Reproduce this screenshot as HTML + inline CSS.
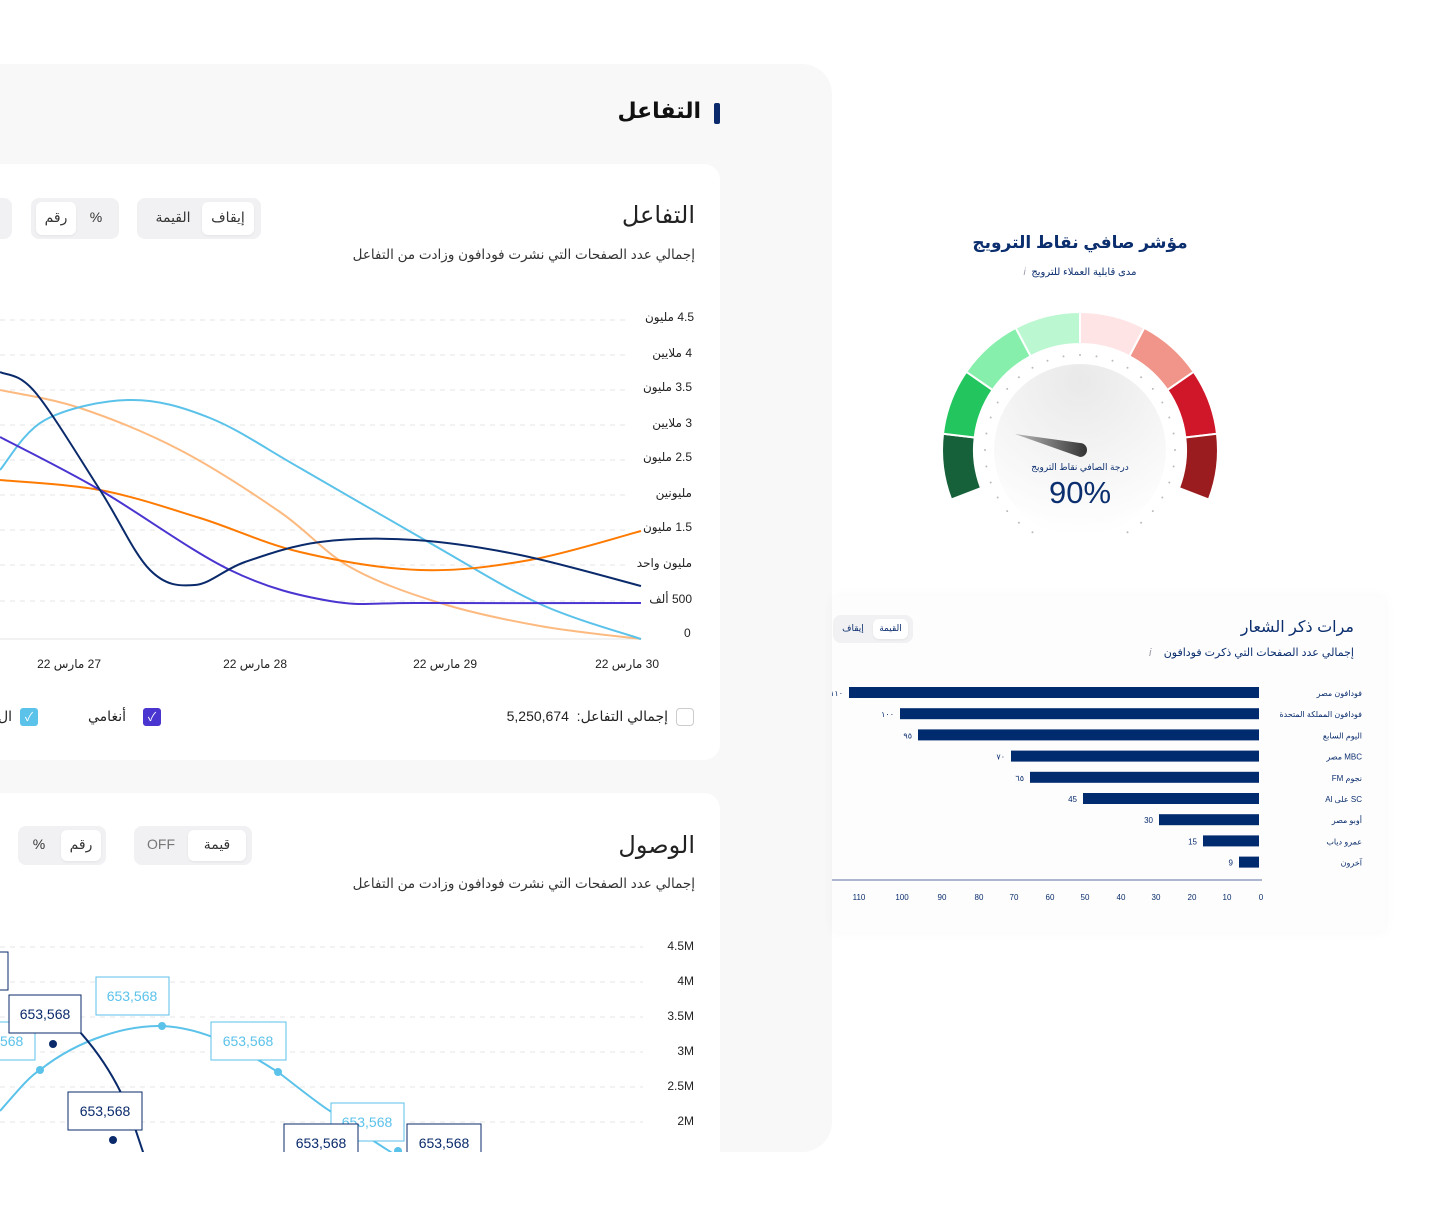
<!DOCTYPE html>
<html><head><meta charset="utf-8">
<style>
*{margin:0;padding:0;box-sizing:border-box}
body{width:1454px;height:1216px;background:#fff;position:relative;overflow:hidden;font-family:"Liberation Sans","Noto Sans CJK SC","DejaVu Sans",sans-serif;color:#222}
.a{position:absolute;white-space:nowrap}
.r{text-align:right;direction:rtl}
.tg{position:absolute;background:#f1f1f3;border-radius:8px}
.tg span{position:absolute;font-size:14px;color:#333;text-align:center}
.on{background:#fff;border-radius:6px;box-shadow:0 1px 2px rgba(0,0,0,.06)}
</style></head><body>
<div class="a" style="left:0;top:64px;width:832px;height:1088px;background:#f8f8f8;border-radius:0 30px 30px 0"></div>
<div class="a r" style="right:753px;top:98px;font-size:22px;font-weight:bold;color:#111">التفاعل</div>
<div class="a" style="left:714px;top:103px;width:6px;height:21px;background:#0a2a6b;border-radius:2px"></div>

<!-- card 1 -->
<div class="a" style="left:0;top:164px;width:720px;height:596px;background:#fff;border-radius:0 16px 16px 0"></div>
<div class="a r" style="right:759px;top:201px;font-size:24px;color:#222">التفاعل</div>
<div class="a r" style="right:759px;top:247px;font-size:13.5px;color:#333">إجمالي عدد الصفحات التي نشرت فودافون وزادت من التفاعل</div>
<div class="tg" style="left:137px;top:198px;width:124px;height:41px"><div class="on a" style="left:65px;top:4px;width:52px;height:33px"></div><span style="left:65px;top:11px;width:52px">إيقاف</span><span style="left:8px;top:11px;width:56px">القيمة</span></div>
<div class="tg" style="left:31px;top:198px;width:88px;height:41px"><div class="on a" style="left:5px;top:4px;width:40px;height:33px"></div><span style="left:5px;top:11px;width:40px">رقم</span><span style="left:50px;top:11px;width:30px">%</span></div>
<div class="tg" style="left:-20px;top:198px;width:32px;height:41px"></div>

<svg class="a" style="left:0;top:0" width="720" height="760">
<g stroke="#e6e6e6" stroke-dasharray="5,5" stroke-width="1">
<line x1="0" x2="628" y1="320" y2="320"/><line x1="0" x2="628" y1="355" y2="355"/><line x1="0" x2="628" y1="390" y2="390"/><line x1="0" x2="628" y1="425" y2="425"/><line x1="0" x2="628" y1="460" y2="460"/><line x1="0" x2="628" y1="495" y2="495"/><line x1="0" x2="628" y1="530" y2="530"/><line x1="0" x2="628" y1="565" y2="565"/><line x1="0" x2="628" y1="601" y2="601"/>
</g>
<line x1="0" x2="641" y1="639" y2="639" stroke="#e4e4e4"/>
<g fill="none" stroke-width="2">
<path id="p1" stroke="#fdba80"/><path id="p2" stroke="#5bc2ea"/><path id="p3" stroke="#ff7a00"/><path id="p4" stroke="#4a35d0"/><path id="p5" stroke="#0a2a6b"/>
</g>
</svg>
<div class="a r" style="right:760px;top:310px;font-size:12px">4.5 مليون</div>
<div class="a r" style="right:762px;top:346px;font-size:12px">4 ملايين</div>
<div class="a r" style="right:762px;top:380px;font-size:12px">3.5 مليون</div>
<div class="a r" style="right:762px;top:416px;font-size:12px">3 ملايين</div>
<div class="a r" style="right:762px;top:450px;font-size:12px">2.5 مليون</div>
<div class="a r" style="right:762px;top:486px;font-size:12px">مليونين</div>
<div class="a r" style="right:762px;top:520px;font-size:12px">1.5 مليون</div>
<div class="a r" style="right:762px;top:556px;font-size:12px">مليون واحد</div>
<div class="a r" style="right:762px;top:592px;font-size:12px">500 ألف</div>
<div class="a" style="left:684px;top:626px;font-size:12px">0</div>
<div class="a r" style="right:795px;top:657px;font-size:12px">30 مارس 22</div>
<div class="a r" style="right:977px;top:657px;font-size:12px">29 مارس 22</div>
<div class="a r" style="right:1167px;top:657px;font-size:12px">28 مارس 22</div>
<div class="a r" style="right:1353px;top:657px;font-size:12px">27 مارس 22</div>
<div class="a" style="left:676px;top:708px;width:18px;height:18px;border:1px solid #ccc;border-radius:4px"></div>
<div class="a r" style="right:786px;top:708px;font-size:14px">إجمالي التفاعل:&nbsp; 5,250,674</div>
<div class="a" style="left:143px;top:708px;width:18px;height:18px;background:#4a35d0;border-radius:3px;color:#fff;font-size:12px;text-align:center;line-height:18px">✓</div>
<div class="a r" style="right:1328px;top:708px;font-size:14px">أنغامي</div>
<div class="a" style="left:20px;top:708px;width:18px;height:18px;background:#5bc2ea;border-radius:3px;color:#fff;font-size:12px;text-align:center;line-height:18px">✓</div>
<div class="a" style="left:0;top:708px;font-size:14px;width:12px;overflow:hidden;direction:rtl">ال</div>

<!-- card 2 -->
<div class="a" style="left:0;top:793px;width:720px;height:359px;background:#fff;border-radius:0 16px 0 0;overflow:hidden">
<svg width="720" height="359" style="position:absolute;left:0;top:0">
<g stroke="#e6e6e6" stroke-dasharray="5,5"><line x1="0" x2="643" y1="154" y2="154"/><line x1="0" x2="643" y1="189" y2="189"/><line x1="0" x2="643" y1="224" y2="224"/><line x1="0" x2="643" y1="259" y2="259"/><line x1="0" x2="643" y1="294" y2="294"/><line x1="0" x2="643" y1="329" y2="329"/></g>
<path d="M0 318 C20 295 30 283 40 277 C80 245 130 232 162 233 C210 235 250 262 278 279 C300 296 320 312 330 318 C360 340 380 352 400 365" fill="none" stroke="#5bc2ea" stroke-width="2"/>
<path d="M48 208 C80 235 110 270 130 320 L145 365" fill="none" stroke="#0a2a6b" stroke-width="2"/>
<g fill="#5bc2ea"><circle cx="40" cy="277" r="4"/><circle cx="162" cy="233" r="4"/><circle cx="278" cy="279" r="4"/><circle cx="398" cy="358" r="4"/></g>
<g fill="#0a2a6b"><circle cx="53" cy="251" r="4"/><circle cx="113" cy="347" r="4"/></g>
<g font-size="14" font-family="Liberation Sans" text-anchor="middle">
<rect x="-40" y="229" width="75" height="38" fill="#fff" stroke="#5bc2ea"/><text x="-2" y="253" fill="#5bc2ea">653,568</text>
<rect x="96" y="184" width="73" height="38" fill="#fff" stroke="#5bc2ea"/><text x="132" y="208" fill="#5bc2ea">653,568</text>
<rect x="211" y="229" width="75" height="38" fill="#fff" stroke="#5bc2ea"/><text x="248" y="253" fill="#5bc2ea">653,568</text>
<rect x="331" y="310" width="73" height="38" fill="#fff" stroke="#5bc2ea"/><text x="367" y="334" fill="#5bc2ea">653,568</text>
<rect x="-70" y="159" width="78" height="38" fill="#fff" stroke="#0a2a6b"/>
<rect x="9" y="202" width="72" height="38" fill="#fff" stroke="#0a2a6b"/><text x="45" y="226" fill="#0a2a6b">653,568</text>
<rect x="68" y="299" width="74" height="38" fill="#fff" stroke="#0a2a6b"/><text x="105" y="323" fill="#0a2a6b">653,568</text>
<rect x="284" y="331" width="74" height="38" fill="#fff" stroke="#0a2a6b"/><text x="321" y="355" fill="#0a2a6b">653,568</text>
<rect x="407" y="331" width="74" height="38" fill="#fff" stroke="#0a2a6b"/><text x="444" y="355" fill="#0a2a6b">653,568</text>
</g>
</svg>
</div>
<div class="a r" style="right:759px;top:831px;font-size:24px">الوصول</div>
<div class="a r" style="right:759px;top:876px;font-size:13.5px;color:#333">إجمالي عدد الصفحات التي نشرت فودافون وزادت من التفاعل</div>
<div class="tg" style="left:134px;top:826px;width:118px;height:39px"><div class="on a" style="left:54px;top:4px;width:58px;height:31px"></div><span style="left:54px;top:10px;width:58px">قيمة</span><span style="left:4px;top:10px;width:46px;color:#777">OFF</span></div>
<div class="tg" style="left:18px;top:826px;width:88px;height:39px"><div class="on a" style="left:43px;top:4px;width:40px;height:31px"></div><span style="left:43px;top:10px;width:40px">رقم</span><span style="left:6px;top:10px;width:30px">%</span></div>
<div class="a" style="right:760px;top:939px;font-size:12px">4.5M</div>
<div class="a" style="right:760px;top:974px;font-size:12px">4M</div>
<div class="a" style="right:760px;top:1009px;font-size:12px">3.5M</div>
<div class="a" style="right:760px;top:1044px;font-size:12px">3M</div>
<div class="a" style="right:760px;top:1079px;font-size:12px">2.5M</div>
<div class="a" style="right:760px;top:1114px;font-size:12px">2M</div>

<!-- gauge -->
<div class="a" style="left:930px;top:233px;width:300px;text-align:center;direction:rtl;font-size:17px;font-weight:bold;color:#0b2e6e">مؤشر صافي نقاط الترويج</div>
<div class="a" style="left:930px;top:267px;width:300px;text-align:center;direction:rtl;font-size:10px;color:#0b2e6e">مدى قابلية العملاء للترويج &nbsp;<i style="color:#99a">i</i></div>
<svg class="a" style="left:930px;top:300px" width="300" height="260" viewBox="930 300 300 260">
<defs><radialGradient id="dg" cx="0.5" cy="0.1" r="0.9"><stop offset="0" stop-color="#e9e9e9"/><stop offset="1" stop-color="#fff"/></radialGradient>
<linearGradient id="ng" x1="0" x2="1"><stop offset="0" stop-color="#bbb"/><stop offset="1" stop-color="#333"/></linearGradient></defs>
<circle cx="1080" cy="450" r="86" fill="url(#dg)"/>
<g id="seg" stroke="#fff" stroke-width="2"></g>
<g id="dots" fill="#bbb"></g>
<path d="M1015 434 L1080 443 A7 7 0 0 1 1080 457 Z" fill="url(#ng)"/>
</svg>
<div class="a" style="left:980px;top:462px;width:200px;text-align:center;direction:rtl;font-size:9px;color:#0b2e6e">درجة الصافي نقاط الترويج</div>
<div class="a" style="left:980px;top:475px;width:200px;text-align:center;font-size:31px;color:#0b2e6e">90%</div>

<!-- bar card -->
<div class="a" style="left:832px;top:596px;width:553px;height:336px;background:#fdfdfd;box-shadow:0 0 12px rgba(0,0,0,.03)"></div>
<div class="a r" style="right:100px;top:617px;font-size:16px;color:#0b2e6e">مرات ذكر الشعار</div>
<div class="a r" style="right:100px;top:646px;font-size:11px;color:#0b2e6e">إجمالي عدد الصفحات التي ذكرت فودافون &nbsp;&nbsp;&nbsp;<i style="color:#99a">i</i></div>
<div class="tg" style="left:833px;top:615px;width:80px;height:28px"><div class="on a" style="left:40px;top:4px;width:35px;height:20px"></div><span style="left:40px;top:8px;width:35px;font-size:9px;color:#0b2e6e">القيمة</span><span style="left:2px;top:8px;width:36px;font-size:9px;color:#0b2e6e">إيقاف</span></div>
<svg class="a" style="left:832px;top:680px" width="553" height="230" viewBox="832 680 553 230" font-family="Liberation Sans,DejaVu Sans" font-size="8" fill="#0b2e6e">
<g id="bars"></g>
<line x1="832" x2="1262" y1="880" y2="880" stroke="#5a6fa0"/>
<g text-anchor="middle">
<text x="859" y="900">110</text><text x="902" y="900">100</text><text x="942" y="900">90</text><text x="979" y="900">80</text><text x="1014" y="900">70</text><text x="1050" y="900">60</text><text x="1085" y="900">50</text><text x="1121" y="900">40</text><text x="1156" y="900">30</text><text x="1192" y="900">20</text><text x="1227" y="900">10</text><text x="1261" y="900">0</text>
</g>
</svg>

<script>
function sm(pts){let d="M"+pts[0];for(let i=0;i<pts.length-1;i++){const p0=pts[i-1]||pts[i],p1=pts[i],p2=pts[i+1],p3=pts[i+2]||p2;const c1=[p1[0]+(p2[0]-p0[0])/6,p1[1]+(p2[1]-p0[1])/6],c2=[p2[0]-(p3[0]-p1[0])/6,p2[1]-(p3[1]-p1[1])/6];d+=" C"+c1+" "+c2+" "+p2;}return d;}
const S={p1:[[0,390],[80,408],[180,450],[280,512],[350,567],[440,603],[540,626],[641,639]],
p2:[[0,470],[45,420],[130,400],[210,418],[300,468],[430,543],[540,604],[641,639]],
p3:[[0,480],[100,490],[200,518],[300,552],[420,570],[530,560],[641,531]],
p4:[[0,437],[100,490],[230,570],[330,601],[420,603],[641,603]],
p5:[[0,372],[35,392],[100,490],[150,570],[195,585],[245,562],[320,542],[415,540],[520,555],[641,586]]};
for(const k in S)document.getElementById(k).setAttribute("d",sm(S[k]));
const ns="http://www.w3.org/2000/svg";
const cols=["#17613a","#22c55e","#86efac","#bbf7d0","#ffe4e6","#f1958a","#d0172a","#9b1c1f"];
const cx=1080,cy=450,R=138,r=106,a0=201,step=222/8;let seg=document.getElementById("seg");
function pt(a,rad){a=a*Math.PI/180;return [(cx+rad*Math.cos(a)).toFixed(1),(cy-rad*Math.sin(a)).toFixed(1)];}
for(let i=0;i<8;i++){const s=a0-i*step,e=s-step;const A=pt(s,R),B=pt(e,R),C=pt(e,r),D=pt(s,r);const p=document.createElementNS(ns,"path");p.setAttribute("d",`M${A} A${R} ${R} 0 0 1 ${B} L${C} A${r} ${r} 0 0 0 ${D}Z`);p.setAttribute("fill",cols[i]);seg.appendChild(p);}
const dots=document.getElementById("dots");
for(let a=-60;a<=240;a+=10){const P=pt(a,95);const c=document.createElementNS(ns,"circle");c.setAttribute("cx",P[0]);c.setAttribute("cy",P[1]);c.setAttribute("r","1");dots.appendChild(c);}
const B=[["فودافون مصر",849,"١١٠"],["فودافون المملكة المتحدة",900,"١٠٠"],["اليوم السابع",918,"٩٥"],["MBC مصر",1011,"٧٠"],["نجوم FM",1030,"٦٥"],["SC على Al",1083,"45"],["أوبو مصر",1159,"30"],["عمرو دياب",1203,"15"],["آخرون",1239,"9"]];
const bg=document.getElementById("bars");
B.forEach((b,i)=>{const y=693+i*21.2;const r=document.createElementNS(ns,"rect");r.setAttribute("x",b[1]);r.setAttribute("y",y-6);r.setAttribute("width",1259-b[1]);r.setAttribute("height",11);r.setAttribute("fill","#002b6e");bg.appendChild(r);
const t=document.createElementNS(ns,"text");t.setAttribute("x",1362);t.setAttribute("y",y+3);t.setAttribute("text-anchor","start");t.setAttribute("direction","rtl");t.textContent=b[0];bg.appendChild(t);
const v=document.createElementNS(ns,"text");v.setAttribute("x",b[1]-6);v.setAttribute("y",y+3);v.setAttribute("text-anchor","end");v.textContent=b[2];bg.appendChild(v);});
</script>
</body></html>
